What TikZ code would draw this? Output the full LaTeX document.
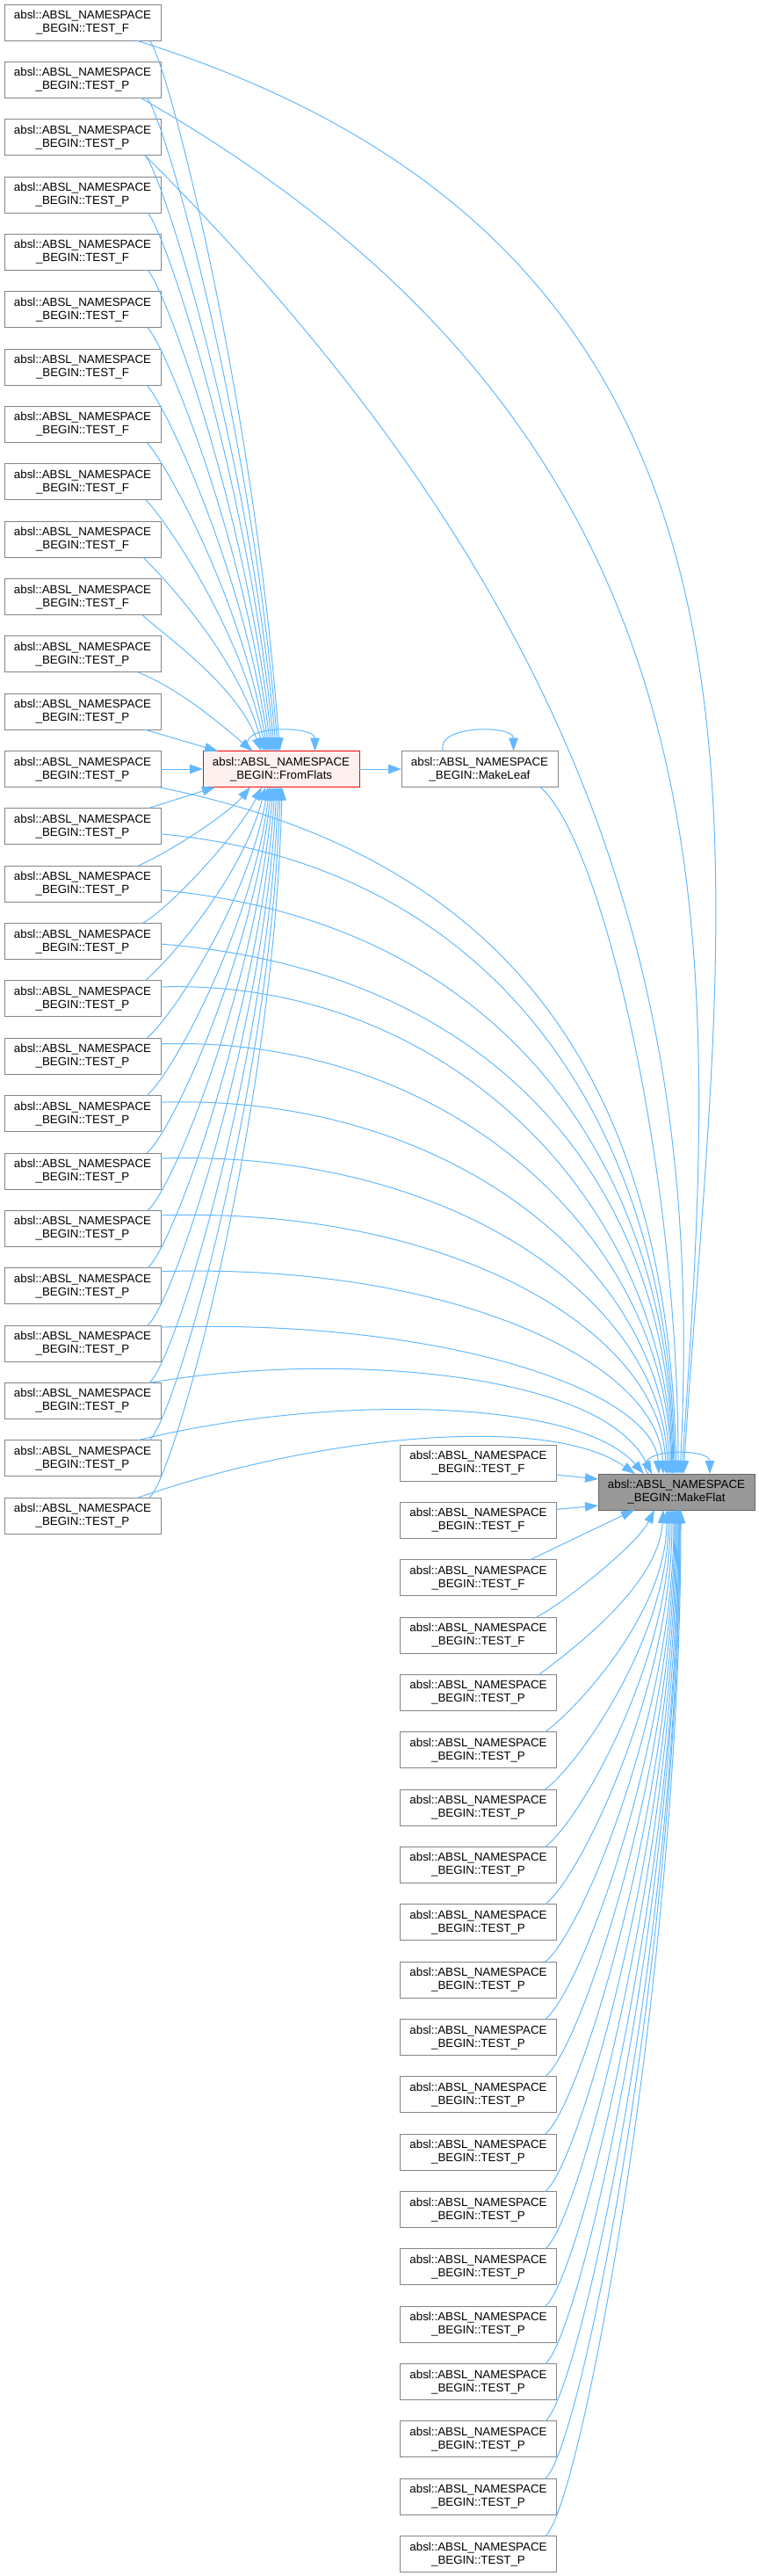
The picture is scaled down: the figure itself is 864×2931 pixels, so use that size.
\documentclass[tikz,border=0pt]{standalone}
\usepackage{fontspec}
\setmainfont{Liberation Sans}
\usepackage{xcolor}
\usepackage{tikz}
\usetikzlibrary{arrows.meta,positioning}
\definecolor{dgEdge}{HTML}{63B8FF}
\definecolor{dgBorder}{HTML}{858585}
\definecolor{dgFocus}{HTML}{999999}
\definecolor{dgFocusBorder}{HTML}{666666}
\definecolor{dgRed}{HTML}{FF0000}
\definecolor{dgPink}{HTML}{FFF0F0}
\newcommand{\AbslFn}[1]{absl::ABSL\_NAMESPACE\\\_BEGIN::#1}

\begin{document}
\begin{tikzpicture}[
    x=1pt, y=-1pt,
    node distance=24.35pt,
    fnbox/.style={draw=dgBorder, fill=white, line width=1pt,
                  minimum width=178pt, minimum height=41pt,
                  inner sep=0pt, outer sep=0pt, align=center,
                  font=\fontsize{13.33}{15}\selectfont},
    hubbox/.style={fnbox, draw=dgRed, fill=dgPink},
    focusbox/.style={fnbox, draw=dgFocusBorder, fill=dgFocus},
    callarrow/.style={draw=dgEdge, line width=1pt,
                      -{Triangle[length=15pt, width=10.5pt]}},
  ]
  \useasboundingbox (0,0) rectangle (864,2931);

  % callers on the left
  \node[fnbox] (l1) at (94,25.5) {\AbslFn{TEST\_F}};
  \node[fnbox, below=of l1]  (l2)  {\AbslFn{TEST\_P}};
  \node[fnbox, below=of l2]  (l3)  {\AbslFn{TEST\_P}};
  \node[fnbox, below=of l3]  (l4)  {\AbslFn{TEST\_P}};
  \node[fnbox, below=of l4]  (l5)  {\AbslFn{TEST\_F}};
  \node[fnbox, below=of l5]  (l6)  {\AbslFn{TEST\_F}};
  \node[fnbox, below=of l6]  (l7)  {\AbslFn{TEST\_F}};
  \node[fnbox, below=of l7]  (l8)  {\AbslFn{TEST\_F}};
  \node[fnbox, below=of l8]  (l9)  {\AbslFn{TEST\_F}};
  \node[fnbox, below=of l9]  (l10) {\AbslFn{TEST\_F}};
  \node[fnbox, below=of l10] (l11) {\AbslFn{TEST\_F}};
  \node[fnbox, below=of l11] (l12) {\AbslFn{TEST\_P}};
  \node[fnbox, below=of l12] (l13) {\AbslFn{TEST\_P}};
  \node[fnbox, below=of l13] (l14) {\AbslFn{TEST\_P}};
  \node[fnbox, below=of l14] (l15) {\AbslFn{TEST\_P}};
  \node[fnbox, below=of l15] (l16) {\AbslFn{TEST\_P}};
  \node[fnbox, below=of l16] (l17) {\AbslFn{TEST\_P}};
  \node[fnbox, below=of l17] (l18) {\AbslFn{TEST\_P}};
  \node[fnbox, below=of l18] (l19) {\AbslFn{TEST\_P}};
  \node[fnbox, below=of l19] (l20) {\AbslFn{TEST\_P}};
  \node[fnbox, below=of l20] (l21) {\AbslFn{TEST\_P}};
  \node[fnbox, below=of l21] (l22) {\AbslFn{TEST\_P}};
  \node[fnbox, below=of l22] (l23) {\AbslFn{TEST\_P}};
  \node[fnbox, below=of l23] (l24) {\AbslFn{TEST\_P}};
  \node[fnbox, below=of l24] (l25) {\AbslFn{TEST\_P}};
  \node[fnbox, below=of l25] (l26) {\AbslFn{TEST\_P}};
  \node[fnbox, below=of l26] (l27) {\AbslFn{TEST\_P}};

  \node[hubbox, right=48pt of l14] (ff) {\AbslFn{FromFlats}};
  \node[fnbox, right=48pt of ff] (ml) {\AbslFn{MakeLeaf}};
  \node[focusbox] (mf) at (770,1697.5) {\AbslFn{MakeFlat}};

  % callers on the right
  \node[fnbox] (r1) at (544.5,1664.5) {\AbslFn{TEST\_F}};
  \node[fnbox, below=of r1]  (r2)  {\AbslFn{TEST\_F}};
  \node[fnbox, below=of r2]  (r3)  {\AbslFn{TEST\_F}};
  \node[fnbox, below=of r3]  (r4)  {\AbslFn{TEST\_F}};
  \node[fnbox, below=of r4]  (r5)  {\AbslFn{TEST\_P}};
  \node[fnbox, below=of r5]  (r6)  {\AbslFn{TEST\_P}};
  \node[fnbox, below=of r6]  (r7)  {\AbslFn{TEST\_P}};
  \node[fnbox, below=of r7]  (r8)  {\AbslFn{TEST\_P}};
  \node[fnbox, below=of r8]  (r9)  {\AbslFn{TEST\_P}};
  \node[fnbox, below=of r9]  (r10) {\AbslFn{TEST\_P}};
  \node[fnbox, below=of r10] (r11) {\AbslFn{TEST\_P}};
  \node[fnbox, below=of r11] (r12) {\AbslFn{TEST\_P}};
  \node[fnbox, below=of r12] (r13) {\AbslFn{TEST\_P}};
  \node[fnbox, below=of r13] (r14) {\AbslFn{TEST\_P}};
  \node[fnbox, below=of r14] (r15) {\AbslFn{TEST\_P}};
  \node[fnbox, below=of r15] (r16) {\AbslFn{TEST\_P}};
  \node[fnbox, below=of r16] (r17) {\AbslFn{TEST\_P}};
  \node[fnbox, below=of r17] (r18) {\AbslFn{TEST\_P}};
  \node[fnbox, below=of r18] (r19) {\AbslFn{TEST\_P}};
  \node[fnbox, below=of r19] (r20) {\AbslFn{TEST\_P}};

  % into FromFlats
  \draw[callarrow] ([xshift=-13pt]l1.south east) .. controls +(20,20) and +(-30,-405) .. ([xshift=-1.5pt]ff.north);
  \draw[callarrow] ([xshift=-16pt]l2.south east) .. controls +(20,20) and +(-30,-372) .. ([xshift=-3.5pt]ff.north);
  \draw[callarrow] ([xshift=-18pt]l3.south east) .. controls +(20,20) and +(-30,-340) .. ([xshift=-5.5pt]ff.north);
  \draw[callarrow] ([xshift=-15pt]l4.south east) .. controls +(20,20) and +(-30,-307) .. ([xshift=-7.5pt]ff.north);
  \draw[callarrow] ([xshift=-15pt]l5.south east) .. controls +(20,20) and +(-30,-274) .. ([xshift=-9.5pt]ff.north);
  \draw[callarrow] ([xshift=-15pt]l6.south east) .. controls +(20,20) and +(-30,-242) .. ([xshift=-11.5pt]ff.north);
  \draw[callarrow] ([xshift=-16pt]l7.south east) .. controls +(20,20) and +(-30,-209) .. ([xshift=-13.5pt]ff.north);
  \draw[callarrow] ([xshift=-16pt]l8.south east) .. controls +(20,20) and +(-30,-176) .. ([xshift=-15.5pt]ff.north);
  \draw[callarrow] ([xshift=-17pt]l9.south east) .. controls +(20,20) and +(-30,-144) .. ([xshift=-17.5pt]ff.north);
  \draw[callarrow] ([xshift=-20pt]l10.south east) .. controls +(20,20) and +(-30,-110) .. ([xshift=-19.5pt]ff.north);
  \draw[callarrow] ([xshift=-21pt]l11.south east) .. controls +(20,20) and +(-30,-78) .. ([xshift=-22.5pt]ff.north);
  \draw[callarrow] ([xshift=-26pt]l12.south east) .. controls +(50,20) and +(-30,-25) .. ([xshift=-32.5pt]ff.north);
  \draw[callarrow] ([xshift=-18pt]l13.south east) -- ([xshift=-72pt]ff.north);
  \draw[callarrow] (l14) -- (ff);
  \draw[callarrow] ([xshift=-15pt]l15.north east) -- ([xshift=-75pt]ff.south);
  \draw[callarrow] ([xshift=-26pt]l16.north east) .. controls +(40,-18) and +(-25,30) .. ([xshift=-35pt]ff.south);
  \draw[callarrow] ([xshift=-21pt]l17.north east) .. controls +(35,-20) and +(-25,50) .. ([xshift=-22pt]ff.south);
  \draw[callarrow] ([xshift=-18pt]l18.north east) .. controls +(30,-25) and +(-25,99) .. ([xshift=-18pt]ff.south);
  \draw[callarrow] ([xshift=-16pt]l19.north east) .. controls +(30,-25) and +(-22,128) .. ([xshift=-15pt]ff.south);
  \draw[callarrow] ([xshift=-16pt]l20.north east) .. controls +(30,-25) and +(-20,158) .. ([xshift=-13pt]ff.south);
  \draw[callarrow] ([xshift=-16pt]l21.north east) .. controls +(30,-25) and +(-20,187) .. ([xshift=-11pt]ff.south);
  \draw[callarrow] ([xshift=-15pt]l22.north east) .. controls +(30,-25) and +(-18,216) .. ([xshift=-9pt]ff.south);
  \draw[callarrow] ([xshift=-15pt]l23.north east) .. controls +(30,-25) and +(-16,246) .. ([xshift=-7pt]ff.south);
  \draw[callarrow] ([xshift=-15pt]l24.north east) .. controls +(30,-25) and +(-14,275) .. ([xshift=-5pt]ff.south);
  \draw[callarrow] ([xshift=-13pt]l25.north east) .. controls +(30,-25) and +(-12,305) .. ([xshift=-3pt]ff.south);
  \draw[callarrow] ([xshift=-13pt]l26.north east) .. controls +(30,-25) and +(-10,334) .. ([xshift=-1pt]ff.south);
  \draw[callarrow] ([xshift=-13pt]l27.north east) .. controls +(30,-25) and +(-8,364) .. ([xshift=1pt]ff.south);
  \draw[callarrow] ([xshift=-34.5pt]ff.north) .. controls +(-25,-30) and +(0,-30) .. ([xshift=38.5pt]ff.north);

  % into MakeLeaf
  \draw[callarrow] (ff) -- (ml);
  \draw[callarrow] ([xshift=-41.5pt]ml.north) .. controls +(-10,-30) and +(0,-30) .. ([xshift=38.5pt]ml.north);

  % into MakeFlat
  \draw[callarrow] ([xshift=-28pt]l1.south east) .. controls +(800,250) and +(45,-700) .. ([xshift=8pt]mf.north);
  \draw[callarrow] ([xshift=-23pt]l2.south east) .. controls +(700,400) and +(40,-600) .. ([xshift=6pt]mf.north);
  \draw[callarrow] ([xshift=-18pt]l3.south east) .. controls +(540,540) and +(25,-500) .. ([xshift=4pt]mf.north);
  \draw[callarrow] ([xshift=-20pt]ml.south east) .. controls +(70,60) and +(0,-350) .. ([xshift=2pt]mf.north);
  \draw[callarrow] ([xshift=-3pt]l14.south east) .. controls +(400,80) and +(-10,-450) .. (mf.north);
  \draw[callarrow] ([yshift=-8.5pt]l15.east) .. controls +(380,35) and +(-5,-400) .. ([xshift=-2pt]mf.north);
  \draw[callarrow] ([yshift=-7pt]l16.east) .. controls +(380,35) and +(-5,-365) .. ([xshift=-3pt]mf.north);
  \draw[callarrow] ([yshift=-3pt]l17.east) .. controls +(380,30) and +(-5,-332) .. ([xshift=-4pt]mf.north);
  \draw[callarrow] ([yshift=13.5pt]l18.east) .. controls +(330,-10) and +(-5,-305) .. ([xshift=-5pt]mf.north);
  \draw[callarrow] ([yshift=14pt]l19.east) .. controls +(330,-10) and +(-5,-269) .. ([xshift=-6pt]mf.north);
  \draw[callarrow] ([yshift=13pt]l20.east) .. controls +(330,-10) and +(-5,-233) .. ([xshift=-8pt]mf.north);
  \draw[callarrow] ([yshift=14.5pt]l21.east) .. controls +(330,-10) and +(-5,-197) .. ([xshift=-10pt]mf.north);
  \draw[callarrow] ([yshift=15pt]l22.east) .. controls +(330,-10) and +(-5,-162) .. ([xshift=-12pt]mf.north);
  \draw[callarrow] ([yshift=16.5pt]l23.east) .. controls +(330,-10) and +(-5,-127) .. ([xshift=-15pt]mf.north);
  \draw[callarrow] ([yshift=18.5pt]l24.east) .. controls +(330,-10) and +(-5,-92) .. ([xshift=-20pt]mf.north);
  \draw[callarrow] ([xshift=-13pt]l25.north east) .. controls +(200,-35) and +(-60,-120) .. ([xshift=-28pt]mf.north);
  \draw[callarrow] ([xshift=-26pt]l26.north east) .. controls +(200,-50) and +(-80,-90) .. ([xshift=-37pt]mf.north);
  \draw[callarrow] ([xshift=-26pt]l27.north east) .. controls +(200,-70) and +(-100,-70) .. ([xshift=-47pt]mf.north);
  \draw[callarrow] ([xshift=-32pt]mf.north) .. controls +(-25,-30) and +(0,-30) .. ([xshift=38pt]mf.north);

  \draw[callarrow] ([yshift=-13.5pt]r1.east) -- ([yshift=14.5pt]mf.west);
  \draw[callarrow] ([yshift=12.5pt]r2.east) -- ([yshift=-15.5pt]mf.west);
  \draw[callarrow] ([xshift=-30pt]r3.north east) -- ([xshift=-48pt]mf.south);
  \draw[callarrow] ([xshift=-23pt]r4.north east) .. controls +(30,-15) and +(-20,40) .. ([xshift=-25pt]mf.south);
  \draw[callarrow] ([xshift=-20pt]r5.north east) .. controls +(40,-30) and +(-5,85) .. ([xshift=-15pt]mf.south);
  \draw[callarrow] ([xshift=-13pt]r6.north east) .. controls +(40,-30) and +(0,114) .. ([xshift=-11pt]mf.south);
  \draw[callarrow] ([xshift=-13pt]r7.north east) .. controls +(40,-30) and +(0,143) .. ([xshift=-9pt]mf.south);
  \draw[callarrow] ([xshift=-13pt]r8.north east) .. controls +(40,-30) and +(0,173) .. ([xshift=-7pt]mf.south);
  \draw[callarrow] ([xshift=-13pt]r9.north east) .. controls +(40,-30) and +(0,202) .. ([xshift=-5pt]mf.south);
  \draw[callarrow] ([xshift=-13pt]r10.north east) .. controls +(40,-30) and +(0,231) .. ([xshift=-3pt]mf.south);
  \draw[callarrow] ([xshift=-13pt]r11.north east) .. controls +(40,-30) and +(0,261) .. ([xshift=-2pt]mf.south);
  \draw[callarrow] ([xshift=-13pt]r12.north east) .. controls +(40,-30) and +(0,290) .. ([xshift=-1pt]mf.south);
  \draw[callarrow] ([xshift=-13pt]r13.north east) .. controls +(40,-30) and +(0,320) .. (mf.south);
  \draw[callarrow] ([xshift=-13pt]r14.north east) .. controls +(40,-30) and +(0,349) .. ([xshift=1pt]mf.south);
  \draw[callarrow] ([xshift=-13pt]r15.north east) .. controls +(40,-30) and +(0,378) .. ([xshift=2pt]mf.south);
  \draw[callarrow] ([xshift=-13pt]r16.north east) .. controls +(40,-30) and +(0,408) .. ([xshift=3pt]mf.south);
  \draw[callarrow] ([xshift=-13pt]r17.north east) .. controls +(40,-30) and +(0,437) .. ([xshift=3pt]mf.south);
  \draw[callarrow] ([xshift=-13pt]r18.north east) .. controls +(40,-30) and +(0,467) .. ([xshift=4pt]mf.south);
  \draw[callarrow] ([xshift=-13pt]r19.north east) .. controls +(40,-30) and +(0,496) .. ([xshift=4pt]mf.south);
  \draw[callarrow] ([xshift=-13pt]r20.north east) .. controls +(40,-30) and +(0,525) .. ([xshift=5pt]mf.south);

\end{tikzpicture}
\end{document}
